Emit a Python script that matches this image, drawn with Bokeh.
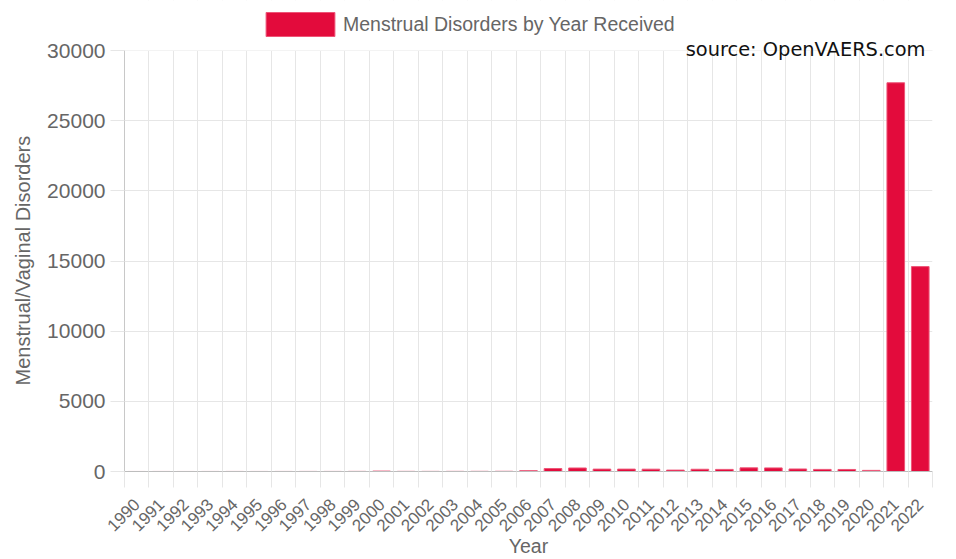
import math
from bokeh.plotting import figure
from bokeh.models import (ColumnDataSource, Range1d, FixedTicker, Legend, LegendItem,
                          Label, BoxAnnotation, Title)
from bokeh.embed import file_html
from bokeh.resources import INLINE

years = list(range(1990, 2023))
counts = [2, 3, 2, 3, 4, 3, 4, 5, 5, 8, 30, 10, 8, 10, 12, 15, 60,
          210, 250, 170, 170, 165, 100, 160, 150, 260, 255, 180, 150, 145, 80,
          27700, 14600]
series_name = "Menstrual Disorders by Year Received"
source_text = "source: OpenVAERS.com"
y_title = "Menstrual/Vaginal Disorders"
x_title = "Year"
y_ticks = [0, 5000, 10000, 15000, 20000, 25000, 30000]

BAR = "#E30B3C"
TXT = "#666666"
GRID = "#e6e6e6"
FONT = "Liberation Sans"

W, H = 956, 559
LEFT, RIGHT, BOTTOM = 124, 24, 88
TOP_PAD = 50          # space above the 30000 line, kept inside the frame
frame_h = H - BOTTOM
y_max = y_ticks[-1]
y_end = y_max * frame_h / (frame_h - TOP_PAD)

src = ColumnDataSource(dict(year=years, count=counts))

p = figure(width=W, height=H, output_backend="svg", toolbar_location=None,
           x_range=Range1d(years[0] - 0.5, years[-1] + 0.5),
           y_range=Range1d(0, y_end),
           min_border_left=LEFT, min_border_right=RIGHT, min_border_top=0,
           min_border_bottom=BOTTOM)
p.outline_line_color = None
p.background_fill_color = "white"

r = p.vbar(x="year", top="count", width=0.72, source=src,
           fill_color=BAR, line_color="#EE5577", line_width=1)

boundaries = [y - 0.5 for y in years] + [years[-1] + 0.5]
p.xaxis.ticker = FixedTicker(ticks=years, minor_ticks=boundaries)
p.xgrid.ticker = FixedTicker(ticks=boundaries)
p.xaxis.major_label_orientation = math.pi / 4
p.xaxis.major_tick_line_color = None
p.xaxis.major_tick_out = 8
p.xaxis.major_tick_in = 0
p.xaxis.minor_tick_out = 16
p.xaxis.minor_tick_in = 0
p.xaxis.minor_tick_line_color = GRID
p.xaxis.axis_line_color = "#bdbdbd"
p.xaxis.major_label_text_font = FONT
p.xaxis.major_label_text_font_size = "17px"
p.xaxis.major_label_text_color = TXT
p.xaxis.major_label_standoff = 14
p.xaxis.axis_label = x_title
p.xaxis.axis_label_text_font = FONT
p.xaxis.axis_label_text_font_size = "19.5px"
p.xaxis.axis_label_text_font_style = "normal"
p.xaxis.axis_label_text_color = TXT
p.xaxis.axis_label_standoff = -5

p.yaxis.ticker = FixedTicker(ticks=y_ticks)
p.yaxis.bounds = (0, y_max)
p.yaxis.minor_tick_line_color = None
p.yaxis.major_tick_out = 14
p.yaxis.major_tick_in = 0
p.yaxis.major_tick_line_color = GRID
p.yaxis.axis_line_color = "#c8c8c8"
p.yaxis.major_label_text_font = FONT
p.yaxis.major_label_text_font_size = "21px"
p.yaxis.major_label_text_color = TXT
p.yaxis.major_label_standoff = 5

# y title as a side title so it can be centred on the 0..30000 span
ytitle = Title(text=y_title, align="left", offset=86, vertical_align="top",
               standoff=18, text_font=FONT, text_font_size="20px",
               text_font_style="normal", text_color=TXT)
p.add_layout(ytitle, "left")

p.xgrid.grid_line_color = GRID
p.ygrid.grid_line_color = GRID

# blank the band above the top gridline (legend / source area)
cover = BoxAnnotation(bottom=y_max, fill_color="white", fill_alpha=1.0,
                      line_alpha=0, level="underlay")
p.add_layout(cover)

legend = Legend(items=[LegendItem(label=series_name, renderers=[r])],
                location=(133, 432), orientation="horizontal",
                glyph_width=86, glyph_height=30, label_standoff=0,
                padding=0, margin=0, border_line_color=None,
                background_fill_alpha=0,
                label_text_font=FONT, label_text_font_size="19.5px",
                label_text_color=TXT, label_height=30)
p.add_layout(legend, "center")

src_label = Label(x=801, y=422, x_units="screen", y_units="screen",
                  text=source_text, text_align="right",
                  text_baseline="alphabetic", text_font="DejaVu Sans",
                  text_font_size="19.4px", text_color="#111111")
p.add_layout(src_label)

open("out.html", "w").write(file_html(p, INLINE))
